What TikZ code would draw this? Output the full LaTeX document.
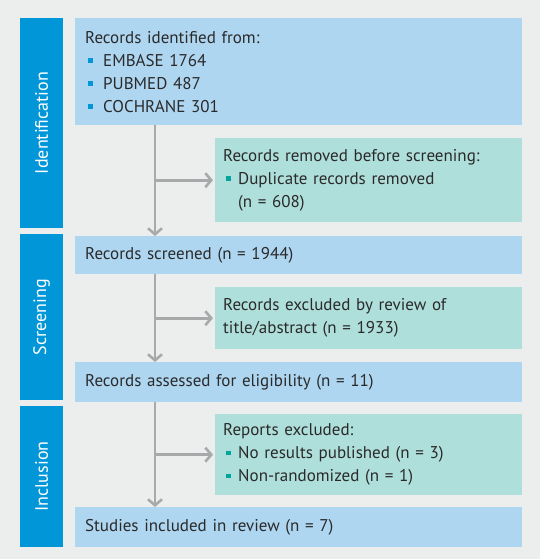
\documentclass[tikz,border=0pt]{standalone}
\usepackage{fontspec}
\setmainfont{PT Sans}
\usepackage{xcolor}
\usetikzlibrary{arrows.meta}

\definecolor{pagebg}{HTML}{ECEEED}
\definecolor{phaseblue}{HTML}{0096D8}
\definecolor{boxblue}{HTML}{AFD6F1}
\definecolor{boxteal}{HTML}{AFDFDB}
\definecolor{bulletteal}{HTML}{00A49A}
\definecolor{flowgray}{HTML}{A8A9AB}
\definecolor{txtgray}{HTML}{2A2A2A}

\newcommand{\bluesq}{\makebox[18pt][l]{\hspace{3pt}\textcolor{phaseblue}{\rule[0.2em]{4.5pt}{4.5pt}}}}
\newcommand{\tealsq}{\makebox[15pt][l]{\hspace{3pt}\textcolor{bulletteal}{\rule[0.2em]{4.5pt}{4.5pt}}}}

\begin{document}
\begin{tikzpicture}[
  x=1pt, y=-1pt,
  font=\fontsize{17}{23}\selectfont, text=txtgray,
  phase/.style={fill=phaseblue, text=white, rotate=90, minimum height=43pt, inner sep=0pt, font=\fontsize{18}{20}\selectfont},
  mainbox/.style={fill=boxblue, anchor=north west, minimum width=447pt, text width=427pt, inner xsep=10pt, align=left},
  sidebox/.style={fill=boxteal, anchor=north west, minimum width=307pt, text width=291pt, inner xsep=8pt, align=left},
  flow/.style={draw=flowgray, line width=2.6pt, -{Straight Barb[length=6pt, width=14pt]}}
]
\fill[pagebg] (0,0) rectangle (540,559);
\useasboundingbox (0,0) rectangle (540,559);

% Phases
\node[phase, minimum width=210pt] (idphase) at (41.5,123) {Identification};
\node[phase, minimum width=166pt] (scphase) at (41.5,317) {Screening};
\node[phase, minimum width=141pt] (inphase) at (41.5,476.5) {Inclusion};

% Nodes
\node[mainbox, minimum height=107pt] (identified) at (75,18) {Records identified from:\\
  \bluesq EMBASE 1764\\ \bluesq PUBMED 487\\ \bluesq COCHRANE 301};
\node[sidebox, minimum height=84pt] (removed) at (215,138) {Records removed before screening:\\
  \tealsq Duplicate records removed\\ \hspace*{15pt}(n = 608)};
\node[mainbox, minimum height=38pt] (screened) at (75,236) {Records screened (n = 1944)};
\node[sidebox, minimum height=62pt] (excluded) at (215,287) {Records excluded by review of\\
  title/abstract (n = 1933)};
\node[mainbox, minimum height=40pt] (assessed) at (75,362) {Records assessed for eligibility (n = 11)};
\node[sidebox, minimum height=81pt] (reports) at (215,414) {Reports excluded:\\
  \tealsq No results published (n = 3)\\ \tealsq Non-randomized (n = 1)};
\node[mainbox, minimum height=40pt] (included) at (75,507) {Studies included in review (n = 7)};

\coordinate (spine) at (155,0);

% Pointers
\draw[flow] (identified.south -| spine) -- (screened.north -| spine);
\draw[flow, shorten >=2pt] (spine |- removed.west) -- (removed.west);
\draw[flow] (screened.south -| spine) -- (assessed.north -| spine);
\draw[flow, shorten >=2pt] (spine |- excluded.west) -- (excluded.west);
\draw[flow] (assessed.south -| spine) -- (included.north -| spine);
\draw[flow, shorten >=2pt] (spine |- reports.west) -- (reports.west);
\end{tikzpicture}
\end{document}
